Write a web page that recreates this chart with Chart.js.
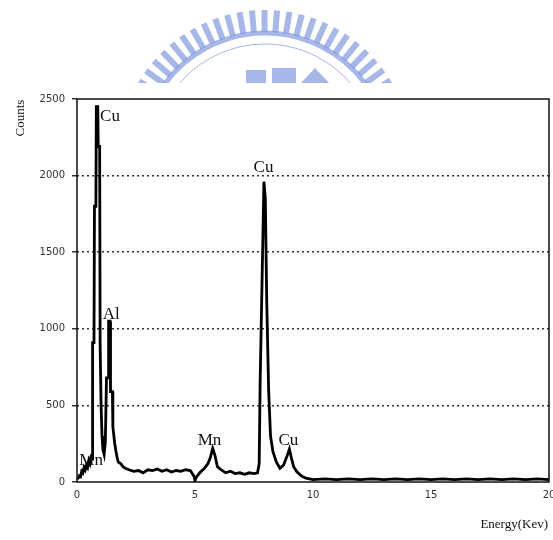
<!DOCTYPE html>
<html>
<head>
<meta charset="utf-8">
<script src="https://cdn.jsdelivr.net/npm/chart.js@4.4.0/dist/chart.umd.min.js"></script>
<style>
  html, body { margin: 0; padding: 0; background: #fff; }
  #wrap { width: 553px; height: 540px; position: relative; }
</style>
</head>
<body>
<div id="wrap"><canvas id="spectrum" width="553" height="540"></canvas></div>
<script>
// EDS spectrum
var energy = [
  0.00, 0.05, 0.10, 0.15, 0.20, 0.25, 0.30, 0.35, 0.40, 0.45, 0.50, 0.55, 0.60, 0.64,
  0.66, 0.72, 0.74, 0.80, 0.82, 0.88, 0.90, 0.96, 0.98, 1.02, 1.06, 1.10, 1.15,
  1.20, 1.25, 1.32, 1.34, 1.40, 1.42, 1.50, 1.52, 1.60, 1.65, 1.70, 1.75, 1.85, 1.95,
  2.05, 2.20, 2.40, 2.60, 2.80, 3.00, 3.20, 3.40, 3.60, 3.80, 4.00, 4.20, 4.40, 4.60,
  4.80, 4.95, 5.00, 5.05, 5.20, 5.40, 5.55, 5.65, 5.75, 5.85, 5.95, 6.10, 6.30, 6.50,
  6.70, 6.90, 7.10, 7.30, 7.50, 7.65, 7.72, 7.76, 7.84, 7.92, 7.98, 8.04, 8.12, 8.20,
  8.30, 8.45, 8.60, 8.75, 8.90, 9.00, 9.08, 9.18, 9.30, 9.50, 9.70, 10.0, 10.5, 11.0,
  11.5, 12.0, 12.5, 13.0, 13.5, 14.0, 14.5, 15.0, 15.5, 16.0, 16.5, 17.0, 17.5, 18.0,
  18.5, 19.0, 19.5, 20.0
];
var counts = [
  20, 25, 40, 35, 70, 60, 95, 80, 110, 95, 140, 120, 160, 150,
  910, 910, 1800, 1800, 2450, 2450, 2190, 2190, 900, 500, 300, 210, 180,
  260, 680, 680, 1050, 1050, 590, 590, 360, 250, 200, 160, 130, 120, 100,
  90, 80, 70, 75, 60, 80, 75, 85, 70, 80, 65, 75, 70, 80,
  75, 40, 10, 30, 60, 90, 120, 160, 220, 170, 100, 80, 60, 70,
  55, 60, 50, 60, 55, 60, 120, 650, 1300, 1960, 1850, 1180, 600, 300,
  200, 130, 90, 110, 170, 215, 160, 100, 70, 40, 25, 15, 20, 15,
  20, 15, 20, 15, 20, 15, 20, 15, 20, 15, 20, 15, 20, 15,
  20, 15, 20, 15
];
var yTicks = [0, 500, 1000, 1500, 2000, 2500];
var xTicks = [0, 5, 10, 15, 20];

// element labels on the peaks
var peakNames = ["Cu", "Al", "Mn", "Mn", "Cu", "Cu"];
var peakEnergy = [0.85, 1.43, 0.10, 5.75, 7.95, 9.00];
var peakCounts = [2450, 1050, 100, 220, 1960, 215];

var points = energy.map(function (e, i) {
  return { x: e, y: counts[i] };
});

// faded logo in the page header, frame, labels
var logoPlugin = {
  id: "logo",
  beforeDraw: function (chart) {
    var ctx = chart.ctx;
    var cx = 265, cy = 157;
    ctx.save();
    ctx.beginPath();
    ctx.rect(0, 0, 553, 83);
    ctx.clip();
    ctx.fillStyle = "rgba(130,152,222,0.7)";
    ctx.strokeStyle = "rgba(130,152,222,0.7)";
    for (var a = -149; a <= -31; a += 4.9) {
      ctx.save();
      ctx.translate(cx, cy);
      ctx.rotate((a + 90) * Math.PI / 180);
      ctx.fillRect(-3, -147, 6, 22);
      ctx.restore();
    }
    ctx.lineWidth = 5;
    ctx.beginPath();
    ctx.arc(cx, cy, 124, Math.PI * 1.15, Math.PI * 1.85);
    ctx.stroke();
    ctx.lineWidth = 1;
    ctx.beginPath();
    ctx.arc(cx, cy, 113, Math.PI * 1.15, Math.PI * 1.85);
    ctx.stroke();
    ctx.fillRect(246, 70, 20, 14);
    ctx.fillRect(272, 68, 24, 16);
    ctx.beginPath();
    ctx.moveTo(300, 84); ctx.lineTo(315, 68); ctx.lineTo(330, 84);
    ctx.fill();
    ctx.restore();
  },
  afterDraw: function (chart) {
    var ctx = chart.ctx;
    var a = chart.chartArea;
    var xs = chart.scales.x, ys = chart.scales.y;
    ctx.save();
    // frame
    ctx.strokeStyle = "#111";
    ctx.lineWidth = 1.5;
    ctx.strokeRect(a.left, a.top, a.right - a.left, a.bottom - a.top);
    // peak labels
    ctx.fillStyle = "#111";
    ctx.font = "17px 'Liberation Serif', serif";
    ctx.textBaseline = "alphabetic";
    ctx.textAlign = "left";
    var offs = [[3, 14], [-8, -2], [0, -2], [-15, -3], [-11, -10], [-11, -4]];
    peakNames.forEach(function (n, i) {
      var px = xs.getPixelForValue(peakEnergy[i]);
      var py = ys.getPixelForValue(peakCounts[i]);
      ctx.fillText(n, px + offs[i][0], py + offs[i][1]);
    });
    // axis titles
    ctx.font = "13px 'Liberation Serif', serif";
    ctx.textAlign = "right";
    ctx.fillText("Energy(Kev)", 548, 528);
    ctx.translate(24, 118);
    ctx.rotate(-Math.PI / 2);
    ctx.textAlign = "center";
    ctx.fillText("Counts", 0, 0);
    ctx.restore();
  }
};

var ctx = document.getElementById("spectrum").getContext("2d");
var spectrumChart = new Chart(ctx, {
  type: "line",
  data: {
    datasets: [
      {
        data: points,
        borderColor: "#000",
        borderWidth: 2.8,
        pointRadius: 0,
        fill: false,
        tension: 0,
      },
    ],
  },
  options: {
    responsive: false,
    animation: false,
    layout: { padding: { top: 99, right: 4, bottom: 28, left: 0 } },
    plugins: { legend: { display: false }, tooltip: { enabled: false } },
    scales: {
      x: {
        type: "linear",
        min: 0,
        max: 20,
        afterFit: function (s) {
          s.height = 30;
          s.paddingLeft = 0;
          s.paddingRight = 0;
        },
        afterBuildTicks: function (s) {
          s.ticks = xTicks.map(function (v) { return { value: v }; });
        },
        grid: { display: false, drawTicks: false },
        border: { display: false },
        ticks: {
          padding: 7,
          color: "#333",
          font: { family: "'DejaVu Sans', sans-serif", size: 10 },
          callback: function (v) { return String(v); },
        },
      },
      y: {
        min: 0,
        max: 2500,
        afterFit: function (s) {
          s.width = 77;
          s.paddingTop = 0;
          s.paddingBottom = 0;
        },
        afterBuildTicks: function (s) {
          s.ticks = yTicks.map(function (v) { return { value: v }; });
        },
        grid: {
          color: function (c) {
            return c.tick.value === 0 || c.tick.value === 2500 ? "rgba(0,0,0,0)" : "#333";
          },
          lineWidth: 1.5,
          tickLength: 5,
          tickColor: "#333",
        },
        border: { display: false, dash: [2, 3] },
        ticks: {
          padding: 7,
          color: "#333",
          font: { family: "'DejaVu Sans', sans-serif", size: 10 },
          callback: function (v) { return String(v); },
        },
      },
    },
  },
  plugins: [logoPlugin],
});
</script>
</body>
</html>
